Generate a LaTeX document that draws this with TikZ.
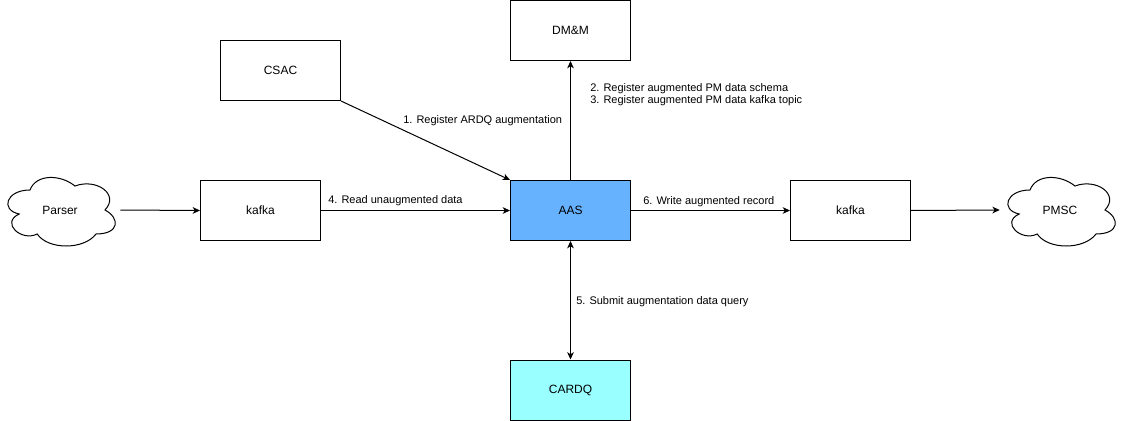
\documentclass[tikz,border=0pt]{standalone}
\usepackage{fontspec}
\setmainfont{Liberation Sans}
\usetikzlibrary{arrows.meta}
\definecolor{aasblue}{RGB}{102,178,255}
\definecolor{cardqcyan}{RGB}{153,255,255}
\newcommand{\drawcloud}[2]{%
  \draw[cloudline, shift={(#1,#2)}] (30,20) .. controls (6,20) and (0,40) .. (19.2,44)
    .. controls (0,52.8) and (21.6,72) .. (37.2,64)
    .. controls (48,80) and (84,80) .. (96,64)
    .. controls (120,64) and (120,48) .. (105,40)
    .. controls (120,24) and (96,8) .. (75,16)
    .. controls (60,4) and (36,4) .. (30,20) -- cycle;}
\tikzset{
  box/.style={draw=black, line width=0.75pt, rectangle, minimum width=90pt, minimum height=45pt, inner sep=0pt, font=\fontsize{9}{11}\selectfont},
  cloudbox/.style={rectangle, minimum width=90pt, minimum height=60pt, inner sep=0pt, font=\fontsize{9}{11}\selectfont},
  cloudline/.style={draw=black, line width=0.75pt, fill=white},
  conn/.style={line width=0.75pt, -{Stealth[length=5.5pt, width=5pt, inset=1.6pt]}},
  biconn/.style={line width=0.75pt, {Stealth[length=5.5pt, width=5pt, inset=1.6pt]}-{Stealth[length=5.5pt, width=5pt, inset=1.6pt]}},
  lbl/.style={anchor=west, inner sep=0pt, font=\fontsize{8.25}{10}\selectfont, align=left}
}
\begin{document}
\begin{tikzpicture}[x=0.75pt, y=-0.75pt]
\useasboundingbox (0,0) rectangle (1121,421);
% clouds
\drawcloud{0}{170}
\drawcloud{1000}{170}
\node[cloudbox] (parser) at (60,210) {Parser};
\node[cloudbox] (pmsc) at (1060,210) {PMSC};
% boxes
\node[box] (dmm) at (570.5,30.5) {DM\&M};
\node[box] (csac) at (280.5,70.5) {CSAC};
\node[box] (kafka1) at (260.5,210.5) {kafka};
\node[box, fill=aasblue] (aas) at (570.5,210.5) {AAS};
\node[box] (kafka2) at (850.5,210.5) {kafka};
\node[box, fill=cardqcyan] (cardq) at (570.5,390) {CARDQ};
% connectors
\draw[conn] (parser.east) -- (kafka1.west);
\draw[conn] (kafka1.east) -- (aas.west);
\draw[conn] (csac.south east) -- (aas.north west);
\draw[conn] (aas.north) -- (dmm.south);
\draw[conn] (aas.east) -- (kafka2.west);
\draw[conn] (kafka2.east) -- (pmsc.west);
\draw[biconn] (aas.south) -- (cardq.north);
% labels
\node[lbl] (l1) at (403,121) {1. Register ARDQ augmentation};
\node[lbl] (l2) at (590,88.5) {2. Register augmented PM data schema};
\node[lbl] (l3) at (590,101) {3. Register augmented PM data kafka topic};
\node[lbl] (l4) at (328,200.5) {4. Read unaugmented data};
\node[lbl] (l5) at (576,301.5) {5. Submit augmentation data query};
\node[lbl] (l6) at (643,201.5) {6. Write augmented record};
\end{tikzpicture}
\end{document}
